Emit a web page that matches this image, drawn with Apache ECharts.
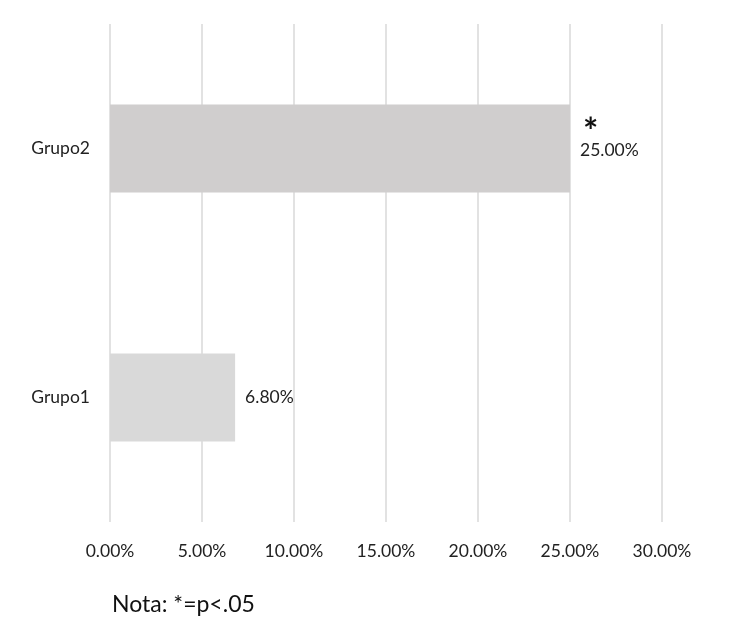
<!DOCTYPE html>
<html>
<head>
<meta charset="utf-8">
<script src="https://cdn.jsdelivr.net/npm/echarts@6/dist/echarts.min.js"></script>
<style>html,body{margin:0;padding:0;background:#fff}#c{width:733px;height:629px}</style>
</head>
<body>
<div id="c"></div>
<script>
var categories = ['Grupo1', 'Grupo2'];
var values = [6.8, 25.0];
var significance = ['', '*'];
var barColors = ['#d9d9d9', '#d0cece'];
var xTicks = [0, 5, 10, 15, 20, 25, 30];
var noteText = 'Nota: *=p<.05';

var FONT = 'Lato, "Open Sans", sans-serif';
var chart = echarts.init(document.getElementById('c'));
chart.setOption({
  animation: false,
  grid: { left: 110, right: 71, top: 24, bottom: 107, containLabel: false },
  xAxis: {
    type: 'value', min: xTicks[0], max: xTicks[xTicks.length - 1], interval: 5,
    axisLine: { show: false }, axisTick: { show: false },
    splitLine: { show: true, lineStyle: { color: '#d9d9d9', width: 1.5 } },
    axisLabel: { margin: 20, fontFamily: FONT, fontSize: 17.5, color: '#222',
      formatter: function (v) { return v.toFixed(2) + '%'; } }
  },
  yAxis: {
    type: 'category', data: categories,
    axisLine: { show: false }, axisTick: { show: false },
    axisLabel: { margin: 20, fontFamily: FONT, fontSize: 17.5, color: '#222' }
  },
  series: [{
    type: 'bar', barWidth: 88,
    data: values.map(function (v, i) {
      var item = { value: v, itemStyle: { color: barColors[i] } };
      if (significance[i]) item.label = { offset: [0, -6] };
      return item;
    }),
    label: {
      show: true, position: 'right', distance: 10,
      fontFamily: FONT, fontSize: 17.5, color: '#222',
      formatter: function (p) {
        var s = significance[p.dataIndex];
        var t = p.value.toFixed(2) + '%';
        return s ? '{star|' + s + '}\n{v|' + t + '}' : '{v|' + t + '}';
      },
      rich: {
        star: { fontFamily: FONT, fontSize: 36, fontWeight: 'bold', color: '#111', padding: [0, 0, 0, 3], lineHeight: 16 },
        v: { fontFamily: FONT, fontSize: 17.5, color: '#222', lineHeight: 20 }
      }
    }
  }],
  graphic: [{
    type: 'text', left: 112, top: 593,
    style: { text: noteText, fontFamily: FONT, fontSize: 23, fill: '#111' }
  }]
});
</script>
</body>
</html>
